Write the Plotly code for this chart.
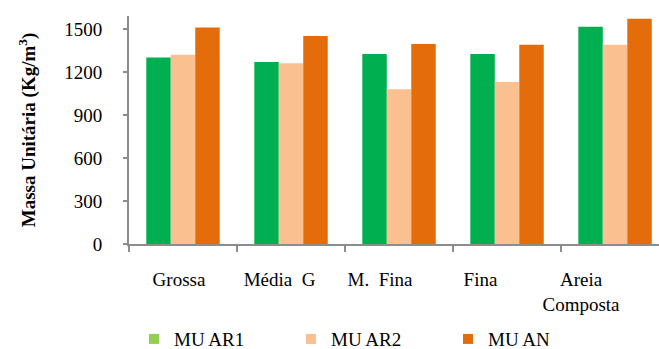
import plotly.graph_objects as go

# Unit mass of each aggregate type, per series
categories = ["Grossa", "Média  G", "M.  Fina", "Fina", "Areia Composta"]
tick_labels = ["Grossa", "Média  G", "M.  Fina", "Fina", "Areia<br>Composta"]
series_names = ["MU AR1", "MU AR2", "MU AN"]
mu_ar1 = [1300, 1270, 1325, 1325, 1515]
mu_ar2 = [1320, 1260, 1080, 1130, 1390]
mu_an = [1510, 1450, 1395, 1390, 1570]
y_ticks = [0, 300, 600, 900, 1200, 1500]

bar_colors = ["#00B050", "#FAC090", "#E46C0A"]
legend_colors = ["#92D050", "#FAC090", "#E46C0A"]

FONT = "Liberation Serif, Times New Roman, Tinos, serif"
AXIS_GREY = "#8C8C8C"

fig = go.Figure()
for name, vals, col in zip(series_names, [mu_ar1, mu_ar2, mu_an], bar_colors):
    fig.add_trace(go.Bar(x=categories, y=vals, name=name, marker=dict(color=col, line=dict(width=0)),
                         showlegend=False))

# legend entries (square swatches)
for name, col in zip(series_names, legend_colors):
    fig.add_trace(go.Scatter(x=[None], y=[None], name=name, mode="markers",
                             marker=dict(symbol="square", size=10, color=col),
                             xaxis="x2", yaxis="y"))

fig.update_layout(
    width=659, height=349,
    margin=dict(l=129, r=0, t=16, b=105, autoexpand=False),
    paper_bgcolor="white", plot_bgcolor="white",
    font=dict(family=FONT, size=19, color="black"),
    barmode="group", bargap=0.32, bargroupgap=0,
    xaxis=dict(type="category", categoryorder="array", categoryarray=categories,
               range=[-0.5, 4.407], showline=True, linecolor=AXIS_GREY, linewidth=2,
               ticks="outside", tickson="boundaries", ticklen=6, tickwidth=2, tickcolor=AXIS_GREY,
               showticklabels=False, showgrid=False, zeroline=False, automargin=False),
    xaxis2=dict(overlaying="x", anchor="y", side="bottom", range=[-0.4975, 4.776],
                tickvals=list(range(len(tick_labels))), ticktext=tick_labels,
                ticks="", showline=False, showgrid=False, zeroline=False, automargin=False,
                ticklabelstandoff=22, tickfont=dict(family=FONT, size=19, color="black")),
    yaxis=dict(range=[0, 1590], tickvals=y_ticks, showline=True, linecolor=AXIS_GREY, linewidth=2,
               ticks="outside", ticklen=4, tickwidth=2, tickcolor=AXIS_GREY, showgrid=False,
               zeroline=False, ticklabelstandoff=17, automargin=False,
               tickfont=dict(family=FONT, size=19, color="black"),
               title=dict(text="<b>Massa Unitária (Kg/m<sup>3</sup>)</b>", standoff=24,
                          font=dict(family=FONT, size=19, color="black"))),
    legend=dict(orientation="h", x=0.0094, xanchor="left", y=-0.417, yanchor="middle",
                entrywidth=112, entrywidthmode="pixels", font=dict(family=FONT, size=19, color="black"),
                bgcolor="rgba(0,0,0,0)"),
)

fig.write_html("out.html")
